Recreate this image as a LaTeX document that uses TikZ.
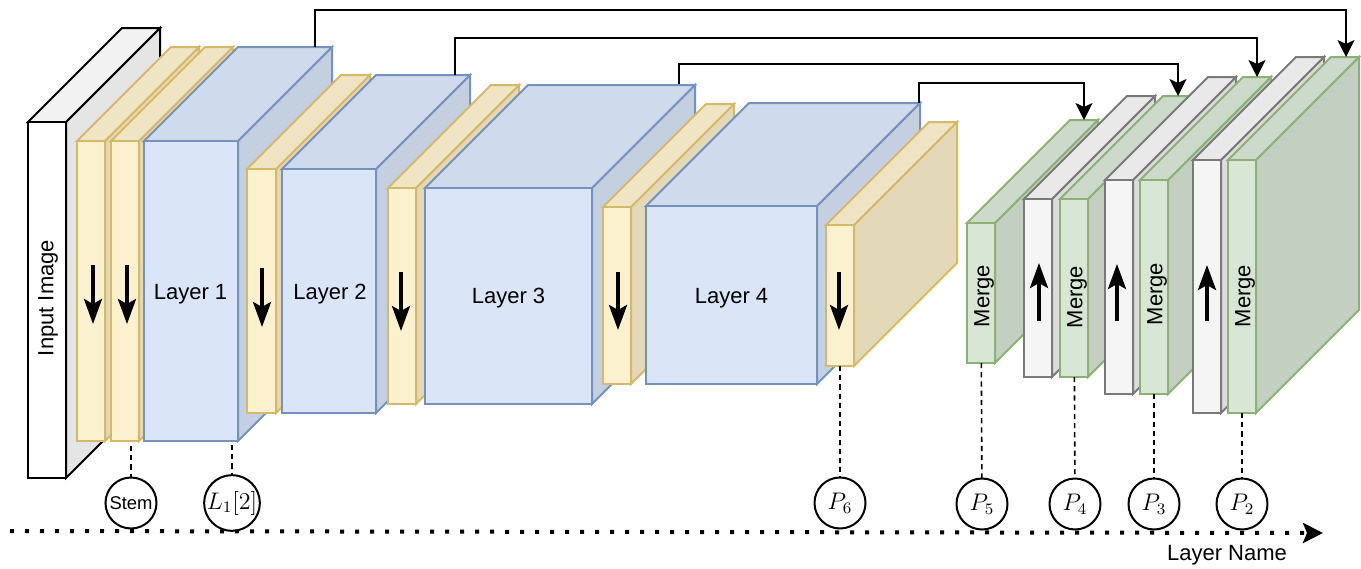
\documentclass[tikz,border=0pt]{standalone}
\usepackage[no-math]{fontspec}
\setmainfont{Liberation Sans}
\usetikzlibrary{arrows.meta}

\definecolor{inputfill}{HTML}{FFFFFF}
\definecolor{inputline}{HTML}{000000}
\definecolor{yellowfill}{HTML}{FCF1CE}
\definecolor{yellowline}{HTML}{D6B966}
\definecolor{bluefill}{HTML}{DAE6F8}
\definecolor{blueline}{HTML}{7492C0}
\definecolor{greenfill}{HTML}{D8E6D6}
\definecolor{greenline}{HTML}{8BB174}
\definecolor{greyfill}{HTML}{F5F5F5}
\definecolor{greyline}{HTML}{7A7A7A}

\tikzset{
	blockedge/.style={line width=1pt, line join=miter},
	blocklabel/.style={font=\fontsize{11}{13}\selectfont, inner sep=0pt},
	skiparrow/.style={line width=0.8pt, -{Stealth[length=8.5pt,width=8.5pt,inset=2pt]}},
	flowarrow/.style={line width=1.8pt, -{Stealth[length=12.5pt,width=9pt,inset=2.5pt]}},
	tapline/.style={line width=0.8pt, dash pattern=on 2.6pt off 2pt},
	tapcircle/.style={circle, draw, line width=1pt, fill=white, minimum size=25.5pt, inner sep=0pt, outer sep=0pt, font=\fontsize{11.5}{13}\selectfont},
	axisline/.style={line width=2pt, dash pattern=on 2pt off 5.5pt, -{Stealth[length=10pt,width=10pt,inset=2pt]}}
}

% name, left, top, width, height, depth, colour
\newcommand{\layerblock}[7]{
	\draw[blockedge, draw=#7line, fill=#7fill!90!black] (#2+#4,#3) -- ++(#6,-#6) -- ++(0,#5) -- ++(-#6,#6) -- cycle;
	\draw[blockedge, draw=#7line, fill=#7fill!95!black] (#2,#3) -- ++(#6,-#6) -- ++(#4,0) -- ++(-#6,#6) -- cycle;
	\node[blockedge, draw=#7line, fill=#7fill, anchor=north west, inner sep=0pt, outer sep=0pt, minimum width=#4*0.5pt, minimum height=#5*0.5pt] (#1) at (#2,#3) {};
}

\begin{document}
\begin{tikzpicture}[x=0.5pt,y=-0.5pt]
	\useasboundingbox (0,0) rectangle (1361,568);

	% backbone
	\layerblock{image}{28}{122}{38}{356}{94}{input}
	\layerblock{stema}{77}{141}{28}{300}{94}{yellow}
	\layerblock{stemb}{111}{141}{28}{300}{94}{yellow}
	\layerblock{layera}{144}{141}{94}{300}{94}{blue}
	\layerblock{downb}{247}{169}{29}{244}{94}{yellow}
	\layerblock{layerb}{282}{169}{94}{244}{94}{blue}
	\layerblock{downc}{388}{188}{28}{216}{103}{yellow}
	\layerblock{layerc}{425}{188}{167}{216}{103}{blue}
	\layerblock{downd}{603}{207}{28}{177}{103}{yellow}
	\layerblock{layerd}{646}{206}{171}{178}{103}{blue}
	\layerblock{downe}{826}{225}{28}{141}{103}{yellow}

	% neck
	\layerblock{merged}{967}{223}{28}{140}{103}{green}
	\layerblock{upc}{1024}{199}{28}{178}{103}{grey}
	\layerblock{mergec}{1060}{199}{28}{178}{103}{green}
	\layerblock{upb}{1105}{180}{28}{214}{103}{grey}
	\layerblock{mergeb}{1140}{180}{28}{214}{103}{green}
	\layerblock{upa}{1193}{160}{28}{253}{103}{grey}
	\layerblock{mergea}{1228}{160}{28}{253}{103}{green}

	% labels
	\node[blocklabel, rotate=90] (imagetxt) at (48,298) {Input Image};
	\node[blocklabel] (layeratxt) at (190.5,294) {Layer 1};
	\node[blocklabel] (layerbtxt) at (330,294) {Layer 2};
	\node[blocklabel] (layerctxt) at (508.5,298) {Layer 3};
	\node[blocklabel] (layerdtxt) at (731.5,298) {Layer 4};
	\node[blocklabel, rotate=90] (mergedtxt) at (984,296) {Merge};
	\node[blocklabel, rotate=90] (mergectxt) at (1077,297) {Merge};
	\node[blocklabel, rotate=90] (mergebtxt) at (1157,294) {Merge};
	\node[blocklabel, rotate=90] (mergeatxt) at (1245,296) {Merge};

	% skip connections
	\coordinate (outa) at (315,47); \coordinate (ina) at (1346,57);
	\coordinate (outb) at (455,75); \coordinate (inb) at (1257,77);
	\coordinate (outc) at (679,84); \coordinate (inc) at (1178,96);
	\coordinate (outd) at (919,103); \coordinate (ind) at (1084,120);
	\draw[skiparrow] (outa) -- ++(0,-37) -| (ina);
	\draw[skiparrow] (outb) -- ++(0,-37) -| (inb);
	\draw[skiparrow] (outc) -- ++(0,-20) -| (inc);
	\draw[skiparrow] (outd) -- ++(0,-20) -| (ind);

	% arrows in the thin blocks
	\coordinate (fa) at (93,265); \coordinate (ga) at (93,324); \draw[flowarrow] (fa) -- (ga);
	\coordinate (fb) at (127,265); \coordinate (gb) at (127,324); \draw[flowarrow] (fb) -- (gb);
	\coordinate (fc) at (262,268); \coordinate (gc) at (262,327); \draw[flowarrow] (fc) -- (gc);
	\coordinate (fd) at (401,272); \coordinate (gd) at (401,331); \draw[flowarrow] (fd) -- (gd);
	\coordinate (fe) at (618,272); \coordinate (ge) at (618,330); \draw[flowarrow] (fe) -- (ge);
	\coordinate (ff) at (839,272); \coordinate (gf) at (839,330); \draw[flowarrow] (ff) -- (gf);
	\coordinate (fg) at (1039,321); \coordinate (gg) at (1039,263); \draw[flowarrow] (fg) -- (gg);
	\coordinate (fh) at (1117,321); \coordinate (gh) at (1117,264); \draw[flowarrow] (fh) -- (gh);
	\coordinate (fi) at (1207,321); \coordinate (gi) at (1207,265); \draw[flowarrow] (fi) -- (gi);

	% layer names
	\node[tapcircle, font=\fontsize{9.2}{11}\selectfont] (stemname) at (131,503) {Stem};
	\node[tapcircle] (lname) at (232,503) {$L_1[2]$};
	\node[tapcircle] (psix) at (840,503) {$P_6$};
	\node[tapcircle] (pfive) at (982,504) {$P_5$};
	\node[tapcircle] (pfour) at (1075,504) {$P_4$};
	\node[tapcircle] (pthree) at (1154,504) {$P_3$};
	\node[tapcircle] (ptwo) at (1242,504) {$P_2$};

	\coordinate (stemtap) at (131,446);
	\coordinate (ltap) at (232,445);
	\draw[tapline] (stemtap) -- (stemname);
	\draw[tapline] (ltap) -- (lname);
	\draw[tapline] (downe) -- (psix);
	\draw[tapline] (merged) -- (pfive);
	\draw[tapline] (mergec) -- (pfour);
	\draw[tapline] (mergeb) -- (pthree);
	\draw[tapline] (mergea) -- (ptwo);

	% axis
	\coordinate (axisfrom) at (10,531);
	\coordinate (axisto) at (1323,533);
	\draw[axisline] (axisfrom) -- (axisto);
	\node[blocklabel] (axisname) at (1227,555) {Layer Name};
\end{tikzpicture}
\end{document}
